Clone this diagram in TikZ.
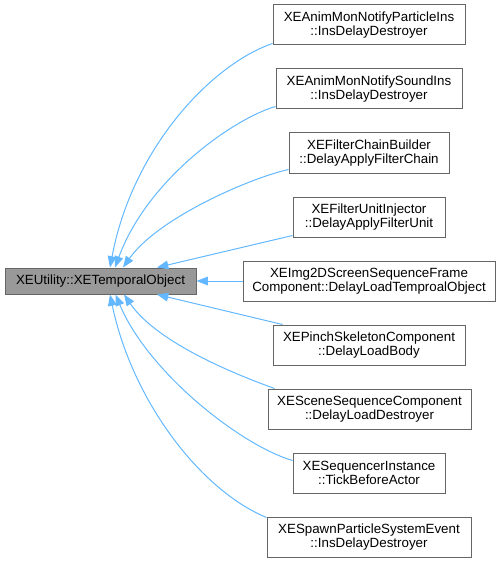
\documentclass[tikz,border=0pt]{standalone}
\usepackage{fontspec}
\setmainfont{Liberation Sans}
\usetikzlibrary{arrows.meta}
\definecolor{edgeblue}{HTML}{63B8FF}
\definecolor{boxgray}{HTML}{666666}
\definecolor{rootfill}{HTML}{999999}
\tikzset{
  child/.style={draw=boxgray, line width=0.75pt, fill=white, inner sep=0pt,
    minimum height=30pt, align=center, font=\fontsize{10pt}{10.3pt}\selectfont},
  rootbox/.style={child, fill=rootfill, minimum height=19.5pt},
  edge/.style={draw=edgeblue, line width=0.75pt, -{Triangle[length=8.5pt,width=6.5pt]}}
}
\begin{document}
\begin{tikzpicture}[x=0.75pt,y=-0.75pt]
\useasboundingbox (0,0) rectangle (500,563);
\node[rootbox, minimum width=143.25pt] (root) at (100.5,281) {XEUtility::XETemporalObject};
\node[child, minimum width=144pt] (c1) at (369,25) {XEAnimMonNotifyParticleIns\\::InsDelayDestroyer};
\node[child, minimum width=139.5pt] (c2) at (369,89) {XEAnimMonNotifySoundIns\\::InsDelayDestroyer};
\node[child, minimum width=120pt] (c3) at (369,153) {XEFilterChainBuilder\\::DelayApplyFilterChain};
\node[child, minimum width=114pt] (c4) at (369,217) {XEFilterUnitInjector\\::DelayApplyFilterUnit};
\node[child, minimum width=189pt] (c5) at (369,281) {XEImg2DScreenSequenceFrame\\Component::DelayLoadTemproalObject};
\node[child, minimum width=144pt] (c6) at (369,345) {XEPinchSkeletonComponent\\::DelayLoadBody};
\node[child, minimum width=152.25pt] (c7) at (369.5,409) {XESceneSequenceComponent\\::DelayLoadDestroyer};
\node[child, minimum width=114pt] (c8) at (369,473) {XESequencerInstance\\::TickBeforeActor};
\node[child, minimum width=153pt] (c9) at (369,537) {XESpawnParticleSystemEvent\\::InsDelayDestroyer};

\draw[edge] ([yshift=1.5pt]c1.south west) .. controls (210,65) and (132,150) .. ([xshift=7.125pt]root.north);
\draw[edge] ([yshift=2.25pt]c2.south west) .. controls (235,118) and (148,178) .. ([xshift=10.875pt]root.north);
\draw[edge] ([yshift=3pt]c3.south west) .. controls (250,178) and (158,218) .. ([xshift=16.875pt]root.north);
\draw[edge] ([yshift=1.5pt]c4.south west) -- ([xshift=42.375pt]root.north);
\draw[edge] (c5.west) -- (root.east);
\draw[edge] ([xshift=7.5pt]c6.north west) -- ([xshift=42.375pt]root.south);
\draw[edge] ([xshift=5.25pt]c7.north west) .. controls (240,376) and (158,344) .. ([xshift=17.625pt]root.south);
\draw[edge] ([yshift=-6pt]c8.north west) .. controls (240,445) and (148,372) .. ([xshift=11.25pt]root.south);
\draw[edge] ([yshift=-0.75pt]c9.north west) .. controls (200,490) and (132,400) .. ([xshift=7.125pt]root.south);
\end{tikzpicture}
\end{document}
